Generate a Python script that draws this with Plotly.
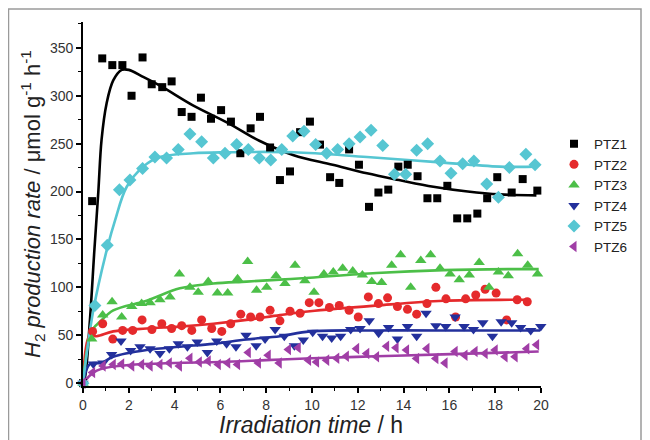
import plotly.graph_objects as go

# ---------------- data ----------------
ptz1_x = [0, 0.4, 0.84, 1.28, 1.72, 2.12, 2.6, 3.0, 3.46, 3.87, 4.31, 4.74, 5.15, 5.59, 6.03, 6.46,
          6.87, 7.32, 7.73, 8.17, 8.6, 9.04, 9.48, 9.91, 10.35, 10.79, 11.19, 11.62, 12.05, 12.49,
          12.9, 13.33, 13.77, 14.18, 14.61, 15.04, 15.47, 15.91, 16.34, 16.78, 17.22, 17.65, 18.09,
          18.72, 19.2, 19.84]
ptz1_y = [0, 190, 339, 332, 332, 300, 340, 312, 309, 315, 283, 278, 298, 276, 285, 273,
          240, 266, 278, 246, 212, 221, 262, 273, 249, 215, 209, 244, 228, 184,
          199, 202, 226, 228, 216, 193, 193, 206, 172, 172, 177, 193, 215,
          199, 213, 201]

ptz2_x = [0, 0.42, 0.86, 1.3, 1.73, 2.17, 2.58, 3.01, 3.44, 3.87, 4.31, 4.75, 5.18, 5.62, 6.06,
          6.45, 6.89, 7.32, 7.73, 8.17, 8.6, 9.04, 9.48, 9.88, 10.3, 10.76, 11.19, 11.62, 12.02,
          12.46, 12.9, 13.3, 13.73, 14.17, 14.57, 15.02, 15.41, 15.85, 16.27, 16.71, 17.15, 17.56,
          18.04, 18.5, 18.96, 19.4]
ptz2_y = [0, 54, 62, 46, 55, 55, 66, 56, 62, 57, 60, 55, 66, 57, 54,
          62, 72, 69, 69, 76, 65, 75, 73, 84, 84, 79, 81, 76, 69,
          90, 83, 89, 80, 77, 72, 83, 100, 88, 69, 88, 92, 98,
          94, 66, 87, 85]

ptz3_x = [0, 0.38, 0.86, 1.27, 1.69, 2.13, 2.56, 2.93, 3.36, 3.8, 4.21, 4.67, 5.03, 5.47, 5.87,
          6.32, 6.75, 7.19, 7.58, 8.02, 8.43, 8.82, 9.26, 9.69, 10.09, 10.52, 10.93, 11.34, 11.78,
          12.2, 12.61, 13.04, 13.48, 13.87, 14.31, 14.75, 15.18, 15.59, 16.03, 16.43, 16.87, 17.3,
          17.73, 18.14, 18.57, 18.98, 19.42, 19.85]
ptz3_y = [0, 46, 71, 85, 69, 80, 83, 84, 87, 90, 114, 100, 95, 106, 94,
          94, 109, 127, 97, 100, 112, 104, 123, 107, 95, 114, 116, 120, 117,
          113, 106, 105, 123, 134, 100, 128, 134, 120, 114, 108, 113, 126,
          100, 116, 112, 135, 123, 114]

ptz4_x = [0, 0.45, 0.87, 1.25, 1.66, 2.08, 2.49, 2.93, 3.36, 3.77, 4.16, 4.56, 4.99, 5.43, 5.84,
          6.27, 6.68, 7.12, 7.56, 7.95, 8.39, 8.79, 9.23, 9.62, 10.03, 10.46, 10.86, 11.25, 11.69,
          12.1, 12.5, 12.91, 13.34, 13.73, 14.17, 14.57, 14.98, 15.41, 15.84, 16.25, 16.64, 17.05,
          17.46, 17.88, 18.26, 18.72, 19.11, 19.55, 19.99]
ptz4_y = [0, 20, 21, 30, 44, 34, 38, 36, 31, 36, 41, 38, 43, 32, 44,
          41, 38, 50, 39, 46, 56, 49, 39, 45, 53, 49, 47, 49, 56,
          57, 65, 52, 58, 46, 59, 49, 73, 60, 59, 69, 59, 56,
          63, 49, 64, 63, 58, 55, 59]

ptz5_x = [0, 0.52, 1.06, 1.59, 2.05, 2.6, 3.14, 3.65, 4.16, 4.67, 5.18, 5.69, 6.2, 6.71, 7.22,
          7.7, 8.2, 8.68, 9.16, 9.65, 10.16, 10.64, 11.12, 11.62, 12.1, 12.58, 13.09, 13.6, 14.09,
          14.57, 15.05, 15.59, 16.07, 16.58, 17.07, 17.63, 18.14, 18.62, 19.34, 19.74]
ptz5_y = [0, 81, 144, 202, 212, 224, 236, 235, 244, 260, 252, 235, 240, 249, 244,
          235, 233, 244, 258, 263, 249, 240, 244, 250, 257, 264, 248, 218, 218,
          243, 250, 232, 219, 229, 232, 208, 194, 225, 239, 228]

ptz6_x = [0, 0.42, 0.88, 1.32, 1.69, 2.13, 2.56, 2.93, 3.36, 3.77, 4.21, 4.67, 5.08, 5.47, 5.91,
          6.32, 6.75, 7.22, 7.66, 8.09, 8.57, 8.97, 9.4, 9.85, 10.2, 10.64, 11.08, 11.5, 11.95,
          12.39, 12.82, 13.26, 13.67, 14.13, 14.57, 15.02, 15.41, 15.81, 16.25, 16.68, 17.12,
          17.56, 18.0, 18.43, 18.87, 19.38, 19.81]
ptz6_y = [0, 11, 18, 19.5, 20, 18, 19.5, 18, 19.5, 21, 18, 26, 22, 23, 19.5,
          21, 19.5, 32, 21, 29, 21, 35, 37, 24, 22, 24, 26, 28, 36,
          31, 27.5, 38.6, 37, 34.5, 25.7, 36, 25.7, 21, 33, 29, 33,
          31, 34.5, 27.5, 27.5, 36, 40]

# fitted curves
fit1_x = [0, 0.1, 0.3, 0.5, 0.67, 0.81, 1.03, 1.32, 1.69, 2.0, 2.6, 3.4, 4.8, 6.3, 7.7, 9.2,
          10.9, 12.4, 13.8, 15.3, 16.8, 18.2, 19.8]
fit1_y = [0, 8, 65, 140, 200, 254, 292, 316, 327, 327, 320, 310, 290, 272, 253, 238,
          228, 219, 212, 205, 200, 197, 196]
fit2_x = [0, 0.3, 0.6, 1.32, 2.78, 4.23, 5.69, 7.14, 8.6, 9.91, 12.82, 15.74, 18.65, 19.5]
fit2_y = [0, 50, 49, 54, 57, 59, 62, 66, 71, 75, 81, 86, 87, 87]
fit3_x = [0, 0.2, 0.45, 0.74, 1.32, 2.78, 4.23, 5.69, 7.14, 8.6, 9.91, 12.82, 15.74, 18.65, 19.9]
fit3_y = [0, 38, 57, 64, 76, 86, 99, 104, 106, 108, 110, 115, 118, 119, 119]
fit4_x = [0, 0.3, 0.8, 1.32, 2.78, 4.23, 5.69, 7.14, 8.6, 9.91, 12.82, 15.74, 19.96]
fit4_y = [0, 20, 21, 27.5, 34.5, 38, 41, 45.5, 49, 54, 55, 55, 55]
fit5_x = [0, 0.45, 1.08, 1.4, 1.91, 2.63, 3.36, 4.82, 6.27, 9.2, 12.4, 15.3, 18.2, 19.8]
fit5_y = [0, 76, 143, 170, 205, 226, 236, 240, 241, 241, 236, 231, 226, 226]
fit6_x = [0, 0.3, 0.6, 1.0, 2.0, 4.0, 6.0, 8.0, 10.0, 12.8, 15.7, 19.9]
fit6_y = [0, 8, 13, 16, 19, 21, 22, 24, 26, 28, 30, 33]

names = ["PTZ1", "PTZ2", "PTZ3", "PTZ4", "PTZ5", "PTZ6"]
x_ticks = [0, 2, 4, 6, 8, 10, 12, 14, 16, 18, 20]
y_ticks = [0, 50, 100, 150, 200, 250, 300, 350]

# ---------------- styles ----------------
colors = ["#000000", "#e52a2c", "#4cbf48", "#23309c", "#56c6d2", "#a03ea6"]
symbols = ["square", "circle", "triangle-up", "triangle-down", "diamond", "triangle-left"]
sizes = [8, 9, 10, 10, 10, 10]

pts = [(ptz1_x, ptz1_y), (ptz2_x, ptz2_y), (ptz3_x, ptz3_y),
       (ptz4_x, ptz4_y), (ptz5_x, ptz5_y), (ptz6_x, ptz6_y)]
fits = [(fit1_x, fit1_y), (fit2_x, fit2_y), (fit3_x, fit3_y),
        (fit4_x, fit4_y), (fit5_x, fit5_y), (fit6_x, fit6_y)]

fig = go.Figure()
for (fx, fy), c in zip(fits, colors):
    fig.add_trace(go.Scatter(x=fx, y=fy, mode="lines", line=dict(color=c, width=2.6, shape="spline"),
                             showlegend=False, hoverinfo="skip", cliponaxis=False))
for (px, py), c, s, sz, n in zip(pts, colors, symbols, sizes, names):
    fig.add_trace(go.Scatter(x=px, y=py, mode="markers", name=n,
                             marker=dict(color=c, symbol=s, size=sz, line=dict(width=0)),
                             cliponaxis=False))

W, H = 650, 440
OFF = 8  # page offset of the figure inside the window
# plot area in window pixels: x 83..541, y 22..386
L = 83 - OFF
R = W - (541 - OFF)
T = 22 - OFF
B = H - (386 - OFF)
pw, ph = W - L - R, H - T - B

def sx(p):  # window px -> paper x
    return (p - OFF - L) / pw

def sy(p):  # window px -> paper y
    return (H - B - (p - OFF)) / ph

tickfont = dict(family="Liberation Sans, Arial, sans-serif", size=14, color="#333333")

fig.update_layout(
    width=W, height=H,
    margin=dict(l=L, r=R, t=T, b=B, autoexpand=False),
    paper_bgcolor="white", plot_bgcolor="white",
    font=dict(family="Liberation Sans, Arial, sans-serif"),
    xaxis=dict(range=[0, 20], tickvals=x_ticks, ticks="outside", ticklen=5, tickwidth=1.5,
               tickcolor="black", showline=True, linecolor="black", linewidth=1.8,
               showgrid=False, zeroline=False, tickfont=tickfont,
               minor=dict(dtick=1, tick0=0, ticks="outside", ticklen=3, tickwidth=1.2,
                          tickcolor="black", showgrid=False)),
    yaxis=dict(range=[-3, 377], tickvals=y_ticks, ticks="outside", ticklen=5, tickwidth=1.5,
               tickcolor="black", showline=True, linecolor="black", linewidth=1.8,
               showgrid=False, zeroline=False, tickfont=tickfont,
               minor=dict(dtick=25, tick0=0, ticks="outside", ticklen=3, tickwidth=1.2,
                          tickcolor="black", showgrid=False)),
    legend=dict(x=sx(554), y=sy(128.5), xanchor="left", yanchor="top",
                font=dict(family="Liberation Sans, Arial, sans-serif", size=13.5, color="#222222"),
                bgcolor="rgba(0,0,0,0)", itemwidth=30, tracegroupgap=0),
    showlegend=True,
)

fig.add_annotation(text="<i>Irradiation time</i> / h", xref="paper", yref="paper",
                   x=sx(311), y=sy(425), showarrow=False,
                   font=dict(size=23, color="#222222"), xanchor="center", yanchor="middle")
fig.add_annotation(text="<i>H</i><sub>2</sub><i> production rate</i> / \u03bcmol g<sup>-1</sup> h<sup>-1</sup>",
                   xref="paper", yref="paper", x=sx(32), y=sy(204),
                   textangle=-90, showarrow=False, font=dict(size=22, color="#222222"),
                   xanchor="center", yanchor="middle")

# outer grey frame of the picture
fig.add_shape(type="rect", xref="paper", yref="paper",
              x0=sx(8.5), x1=sx(641), y0=sy(460), y1=sy(9),
              line=dict(color="#9a9a9a", width=1.5), fillcolor="rgba(0,0,0,0)", layer="below")

fig.write_html("out.html")
